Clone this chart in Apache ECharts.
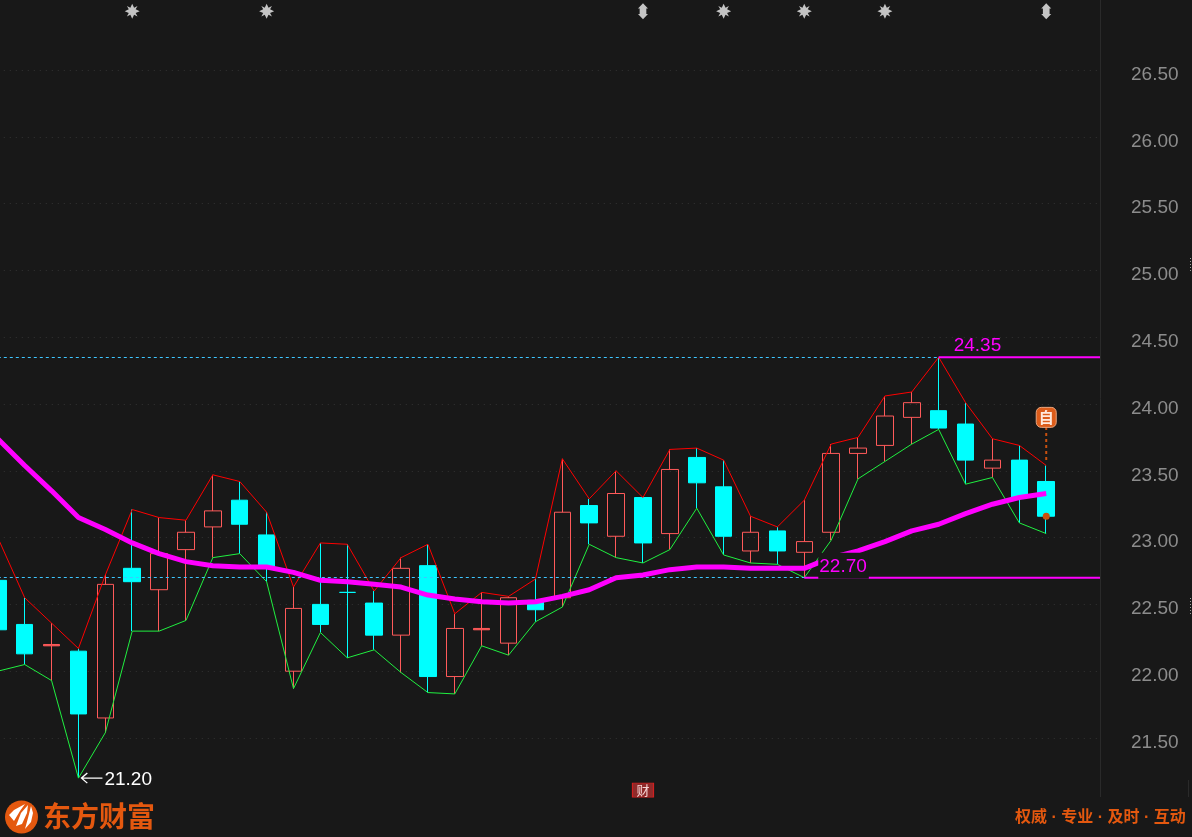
<!DOCTYPE html>
<html>
<head>
<meta charset="utf-8">
<title>K-line</title>
<script src="https://cdn.jsdelivr.net/npm/echarts@6/dist/echarts.min.js"></script>
<style>
html,body{margin:0;padding:0;background:#181818;overflow:hidden}
#kline{width:1192px;height:837px}
</style>
</head>
<body>
<div id="kline"></div>
<script>
// values, one entry per candle
var opens  = [22.68,22.35,22.19,22.15,21.65,22.77,22.61,22.91,23.08,23.28,23.02,22.00,22.50,22.59,22.51,22.27,22.79,21.96,22.31,22.21,22.53,22.55,23.24,23.01,23.30,23.03,23.60,23.38,22.90,23.05,22.89,23.04,23.63,23.69,23.90,23.95,23.85,23.52,23.58,23.42];
var closes = [22.31,22.13,22.20,21.68,22.65,22.67,22.88,23.04,23.20,23.10,22.78,22.47,22.35,22.59,22.27,22.77,21.96,22.32,22.32,22.55,22.46,23.19,23.11,23.33,22.96,23.51,23.41,23.01,23.04,22.90,22.97,23.63,23.67,23.91,24.01,23.82,23.58,23.58,23.30,23.16];
var highs  = [23.00,22.55,22.36,22.17,22.72,23.21,23.15,23.13,23.47,23.42,23.19,22.63,22.96,22.95,22.60,22.85,22.95,22.43,22.59,22.56,22.69,23.59,23.29,23.50,23.30,23.66,23.67,23.58,23.16,23.08,23.28,23.70,23.75,24.06,24.09,24.35,24.01,23.74,23.69,23.54];
var lows   = [22.00,22.05,21.93,21.20,21.54,22.30,22.30,22.38,22.85,22.88,22.67,21.87,22.29,22.10,22.16,21.99,21.84,21.83,22.19,22.12,22.37,22.48,22.95,22.85,22.81,22.91,23.22,22.87,22.81,22.80,22.70,22.98,23.44,23.57,23.70,23.81,23.40,23.45,23.11,23.03];
var ma     = [23.74,23.54,23.35,23.15,23.06,22.96,22.88,22.82,22.79,22.78,22.78,22.74,22.68,22.67,22.65,22.63,22.57,22.54,22.52,22.51,22.52,22.56,22.61,22.70,22.72,22.76,22.78,22.78,22.77,22.77,22.77,22.85,22.90,22.97,23.05,23.10,23.18,23.25,23.30,23.33];
var emptySlots = 2;
var yTicks = ['21.50','22.00','22.50','23.00','23.50','24.00','24.50','25.00','25.50','26.00','26.50'];
var starDays = [5,10,27,30,33];
var arrowDays = [24,39];
var cyanDojiDays = [13];
var redDojiDays = [2,18];
var newsDay = 24;
var lastDay = 39;
var highDay = 35, highPrice = 24.35;
var lowDay = 30, lowPrice = 22.70;
var bottomDay = 3, bottomPrice = 21.20;
var markerTop = 26.94, newsRow = 21.11;
var flagPrice = 23.9, flagBase = 23.58, dotPrice = 23.16;

var categories = [];
for (var i = 0; i < opens.length + emptySlots; i++) categories.push(String(i));

var candle = opens.map(function (o, i) {
    var v = [o, closes[i], lows[i], highs[i]];
    if (cyanDojiDays.indexOf(i) >= 0) return { value: v, itemStyle: { borderColor: '#00ffff' } };
    if (redDojiDays.indexOf(i) >= 0) return { value: v, itemStyle: { color: '#ff5a5a' } };
    return v;
});

// horizontal rule from a given day to the right edge
function ruleFrom(day, price) {
    return [[day, price], [categories.length - 1, price]];
}
function rowOf(days, price) {
    return days.map(function (d) { return [d, price]; });
}

var star = 'path://M12 0 L15 6.5 L20.5 3.5 L17.5 9 L24 12 L17.5 15 L20.5 20.5 L15 17.5 L12 24 L9 17.5 L3.5 20.5 L6.5 15 L0 12 L6.5 9 L3.5 3.5 L9 6.5 Z';
var upDown = 'path://M6 0 L12 8 L10 8 L10 16 L12 16 L6 24 L0 16 L2 16 L2 8 L0 8 Z';
var longArrow = 'path://M0 6 L7 0 L8 1 L3 5.4 L24 5.4 L24 6.6 L3 6.6 L8 11 L7 12 Z';

var myChart = echarts.init(document.getElementById('kline'));

var option = {
    backgroundColor: '#181818',
    animation: false,
    grid: { left: -2.2, right: 92, top: 3.2, bottom: 32.2, containLabel: false, outerBoundsMode: 'none' },
    xAxis: {
        type: 'category',
        data: categories,
        boundaryGap: false,
        axisLine: { show: false },
        axisTick: { show: false },
        axisLabel: { show: false },
        splitLine: { show: false }
    },
    yAxis: {
        type: 'value',
        position: 'right',
        min: 21,
        max: 27,
        interval: 0.5,
        axisLine: { show: false },
        axisTick: { show: false },
        axisLabel: {
            color: '#8c8c8c',
            fontFamily: 'Liberation Sans',
            fontSize: 19,
            margin: 31,
            verticalAlign: 'top',
            lineHeight: 9,
            showMinLabel: false,
            showMaxLabel: false,
            formatter: function (v) {
                var s = v.toFixed(2);
                return yTicks.indexOf(s) >= 0 ? s : '';
            }
        },
        splitLine: {
            showMinLine: false,
            showMaxLine: false,
            lineStyle: { color: '#333333', type: [1, 5], width: 1 }
        }
    },
    series: [
        {
            name: 'K',
            type: 'candlestick',
            data: candle,
            barWidth: 17,
            z: 3,
            itemStyle: {
                color: 'transparent',
                color0: '#00ffff',
                borderColor: '#ff5a5a',
                borderColor0: '#00ffff',
                borderWidth: 1
            },
            markLine: {
                silent: true,
                symbol: 'none',
                label: { show: false },
                lineStyle: { color: '#3ec6ff', type: [3, 3], width: 1 },
                data: [{ yAxis: highPrice }, { yAxis: lowPrice }]
            }
        },
        {
            name: 'high',
            type: 'line',
            data: highs,
            symbol: 'none',
            z: 4,
            lineStyle: { color: '#ff0000', width: 1 }
        },
        {
            name: 'low',
            type: 'line',
            data: lows,
            symbol: 'none',
            z: 4,
            lineStyle: { color: '#20f040', width: 1 }
        },
        {
            name: 'ma',
            type: 'line',
            data: ma,
            symbol: 'none',
            z: 5,
            lineStyle: { color: '#ff00ff', width: 5 }
        },
        {
            name: 'highRule',
            type: 'line',
            data: ruleFrom(highDay, highPrice),
            symbol: 'none',
            z: 6,
            lineStyle: { color: '#ff00ff', width: 2 }
        },
        {
            name: 'lowRule',
            type: 'line',
            data: ruleFrom(lowDay, lowPrice),
            symbol: 'none',
            z: 6,
            lineStyle: { color: '#ff00ff', width: 2 }
        },
        {
            name: 'highLabel',
            type: 'scatter',
            data: [[highDay, highPrice]],
            symbolSize: 0,
            z: 8,
            itemStyle: { opacity: 1 },
            label: {
                show: true,
                formatter: highPrice.toFixed(2),
                position: [15, -21],
                color: '#ff00ff',
                fontFamily: 'Liberation Sans',
                fontSize: 19
            }
        },
        {
            name: 'lowLabel',
            type: 'scatter',
            data: [[lowDay, lowPrice]],
            symbolSize: 0,
            z: 8,
            itemStyle: { opacity: 1 },
            label: {
                show: true,
                formatter: lowPrice.toFixed(2),
                position: [14, -25],
                color: '#ff00ff',
                backgroundColor: '#181818',
                padding: [5, 2, 2, 1],
                fontFamily: 'Liberation Sans',
                fontSize: 19
            }
        },
        {
            name: 'bottomLabel',
            type: 'scatter',
            data: [[bottomDay, bottomPrice]],
            symbol: longArrow,
            symbolSize: [22, 11],
            symbolOffset: [13, 0],
            itemStyle: { color: '#ffffff', opacity: 1 },
            z: 8,
            label: {
                show: true,
                formatter: bottomPrice.toFixed(2),
                position: [24, -2],
                color: '#ffffff',
                fontFamily: 'Liberation Sans',
                fontSize: 19
            }
        },
        {
            name: 'stars',
            type: 'scatter',
            data: rowOf(starDays, markerTop),
            symbol: star,
            symbolSize: 15,
            z: 7,
            itemStyle: { color: '#c4c4c4', opacity: 1 }
        },
        {
            name: 'arrows',
            type: 'scatter',
            data: rowOf(arrowDays, markerTop),
            symbol: upDown,
            symbolSize: [10, 16],
            z: 7,
            itemStyle: { color: '#c4c4c4', opacity: 1 }
        },
        {
            name: 'news',
            type: 'scatter',
            data: [[newsDay, newsRow]],
            symbol: 'rect',
            symbolSize: [21, 14],
            z: 7,
            itemStyle: { color: '#8f2a2a', borderColor: '#d02020', borderWidth: 1, opacity: 1 },
            label: {
                show: true,
                formatter: '财',
                position: 'inside',
                color: '#f5d5d5',
                fontFamily: 'Noto Sans CJK SC',
                fontSize: 13
            }
        },
        {
            name: 'flagStem',
            type: 'line',
            data: [[lastDay, flagBase], [lastDay, flagPrice]],
            symbol: 'none',
            z: 6,
            lineStyle: { color: '#c8500f', width: 2, type: [3, 3] }
        },
        {
            name: 'flag',
            type: 'scatter',
            data: [[lastDay, flagPrice]],
            symbol: 'roundRect',
            symbolSize: 20,
            z: 8,
            itemStyle: { color: '#dc5c1a', borderColor: '#e8a57f', borderWidth: 1, opacity: 1 },
            label: {
                show: true,
                formatter: '自',
                position: 'inside',
                color: '#ffe9dc',
                fontFamily: 'Noto Sans CJK SC',
                fontWeight: 'bold',
                fontSize: 15
            }
        },
        {
            name: 'dot',
            type: 'scatter',
            data: [[lastDay, dotPrice]],
            symbol: 'circle',
            symbolSize: 7,
            z: 8,
            itemStyle: { color: '#c8500f', opacity: 1 }
        }
    ],
    graphic: [
        { type: 'line', silent: true, shape: { x1: 1100.5, y1: 0, x2: 1100.5, y2: 797 }, style: { stroke: '#2a2a2a', lineWidth: 1 } },
        { type: 'line', silent: true, shape: { x1: 1188.5, y1: 780, x2: 1188.5, y2: 797 }, style: { stroke: '#2a2a2a', lineWidth: 1 } },
        { type: 'line', silent: true, shape: { x1: 1190.5, y1: 258, x2: 1190.5, y2: 272 }, style: { stroke: '#9a9a9a', lineWidth: 1, lineDash: [1, 2] } },
        { type: 'line', silent: true, shape: { x1: 1190.5, y1: 598, x2: 1190.5, y2: 616 }, style: { stroke: '#9a9a9a', lineWidth: 1, lineDash: [1, 2] } },
        { type: 'circle', silent: true, shape: { cx: 21.5, cy: 817, r: 16.5 }, style: { fill: '#e4580f' } },
        { type: 'polygon', silent: true, shape: { points: [[9,815],[14,810],[25,804],[20,811],[14,821]] }, style: { fill: '#ffffff' } },
        { type: 'polygon', silent: true, shape: { points: [[16,826],[21,813],[28,805],[27,813],[22,824]] }, style: { fill: '#ffffff' } },
        { type: 'polygon', silent: true, shape: { points: [[25,829],[28,818],[31,806],[33,813],[31,822]] }, style: { fill: '#ffffff' } },
        { type: 'text', silent: true, style: { x: 43, y: 802, text: '东方财富', fill: '#e4580f', font: 'bold 28px "Noto Sans CJK SC"' } },
        { type: 'text', silent: true, style: { x: 1015, y: 810, text: '权威 · 专业 · 及时 · 互动', fill: '#e4580f', font: 'bold 16px "Liberation Sans","Noto Sans CJK SC"' } }
    ]
};

myChart.setOption(option);
</script>
</body>
</html>
